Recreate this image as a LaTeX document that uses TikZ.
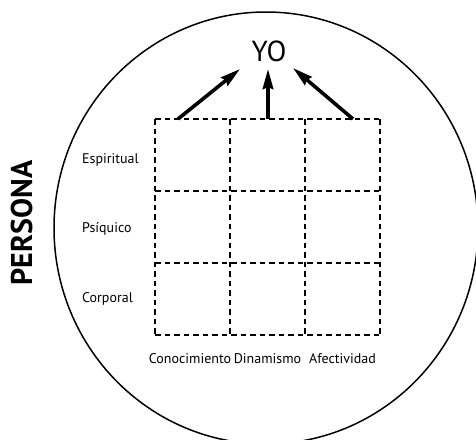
\documentclass[tikz,border=0pt]{standalone}
\usepackage{fontspec}
\setmainfont{PT Sans}
\usetikzlibrary{arrows.meta}

\begin{document}
\begin{tikzpicture}[x=1pt,y=-1pt]
                        \tikzstyle{grid line}=[line width=1.7pt, dash pattern=on 5.5pt off 4pt]
                        \tikzstyle{up arrow}=[line width=3.6pt, -{Stealth[length=20pt,width=10.5pt,inset=2pt]}]
                        \tikzstyle{label}=[inner sep=0pt, font=\fontsize{14}{16}\selectfont]
                        \useasboundingbox (0,0) rectangle (476,439);
                        \draw[line width=1.5pt] (266,228) ellipse [x radius=212pt, y radius=216pt];
                        \foreach \x in {155,230,305,380}
                            \draw[grid line] (\x,119) -- (\x,335);
                        \foreach \y in {119,191,263,335}
                            \draw[grid line] (155,\y) -- (380,\y);
                        \node[anchor=base, inner sep=0pt, font=\fontsize{29}{31}\selectfont] (yo) at (269,61) {YO};
                        \node[rotate=90, anchor=base, inner sep=0pt, font=\fontsize{30}{32}\selectfont\bfseries] (persona) at (32,223) {PERSONA};
                        \node[label, anchor=base west] (espiritual) at (82,163) {Espiritual};
                        \node[label, anchor=base west] (psiquico) at (82,232) {Psíquico};
                        \node[label, anchor=base west] (corporal) at (82,302) {Corporal};
                        \node[label, anchor=base] (conocimiento) at (190,363) {Conocimiento};
                        \node[label, anchor=base] (dinamismo) at (267.5,363) {Dinamismo};
                        \node[label, anchor=base] (afectividad) at (342.5,363) {Afectividad};
                        \coordinate (from left) at (178,119);
                        \coordinate (from mid) at (268,119);
                        \coordinate (from right) at (353,119);
                        \coordinate (to left) at (240,69);
                        \coordinate (to mid) at (268,69);
                        \coordinate (to right) at (293,68);
                        \draw[up arrow] (from left) -- (to left);
                        \draw[up arrow] (from mid) -- (to mid);
                        \draw[up arrow] (from right) -- (to right);
                    \end{tikzpicture}
\end{document}
